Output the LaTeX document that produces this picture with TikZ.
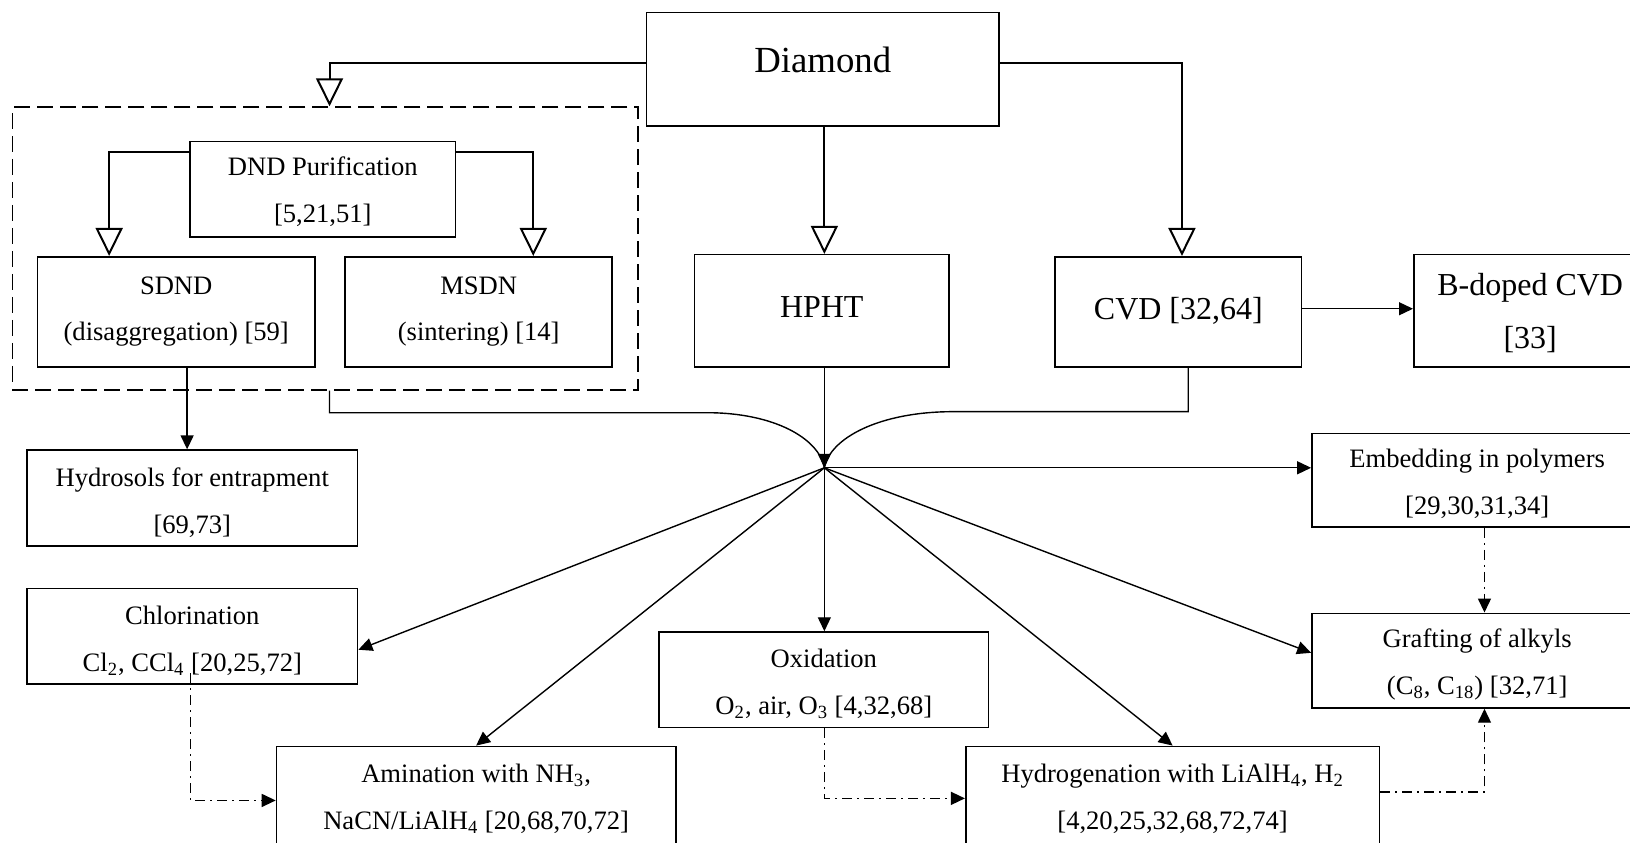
\documentclass[tikz,border=0pt]{standalone}
\usepackage{fontspec}
\setmainfont{Liberation Serif}
\usetikzlibrary{arrows.meta,fit,calc}
\begin{document}
\begin{tikzpicture}[x=0.52pt,y=-0.52pt,
  box/.style={draw,line width=0.8pt,inner sep=0pt,align=center,font=\fontsize{13.3}{23.5}\selectfont},
  sz/.style 2 args={minimum width=#1*0.52pt,minimum height=#2*0.52pt},
  bigtext/.style={font=\fontsize{16}{26.5}\selectfont},
  tpos/.style={text height=#1,text depth=0pt},
  conn/.style={line width=1pt},
  opentri/.style={-{Triangle[fill=white,length=14pt,width=13.5pt]}},
  arr/.style={line width=0.7pt,-{Triangle[length=7pt,width=6.5pt]}},
  dd/.style={dash pattern=on 5pt off 2.5pt on 1pt off 2.5pt},
  grpbox/.style={draw,line width=0.8pt,inner sep=0pt,dash pattern=on 8pt off 3.5pt}]
\useasboundingbox (0,0) rectangle (1568,810);

\node[box,sz={339}{109},tpos=3.6pt,font=\fontsize{18.4}{22}\selectfont] (diamond) at (791.5,66.5) {Diamond};
\node[grpbox,fit={(12,103)(614,375)}] (grp) {};
\node[box,sz={255}{92},tpos=33.3pt] (dnd) at (310.5,182) {DND Purification\\{}[5,21,51]};
\node[box,sz={267}{106},tpos=28.6pt,font=\fontsize{13.3}{23}\selectfont] (sdnd) at (169.5,300) {SDND\\(disaggregation) [59]};
\node[box,sz={257}{106},tpos=28.6pt,font=\fontsize{13.3}{23}\selectfont] (msdn) at (460.5,300) {MSDN\\(sintering) [14]};
\node[box,bigtext,sz={245}{108},tpos=6.3pt] (hpht) at (790.5,299) {HPHT};
\node[box,bigtext,sz={237}{106},tpos=7.3pt] (cvd) at (1133.5,300) {CVD [32,64]};
\node[box,bigtext,sz={224}{108},tpos=37.4pt] (bcvd) at (1472,299) {B-doped CVD\\{}[33]};
\node[box,sz={318}{92},tpos=35.4pt] (hyd) at (185,479) {Hydrosols for entrapment\\{}[69,73]};
\node[box,sz={318}{90},tpos=34.3pt] (emb) at (1421,462) {Embedding in polymers\\{}[29,30,31,34]};
\node[box,sz={318}{92},tpos=35.4pt] (chl) at (185,612) {Chlorination\\Cl\textsubscript{2}, CCl\textsubscript{4} [20,25,72]};
\node[box,sz={318}{91},tpos=33.8pt] (graf) at (1421,635.5) {Grafting of alkyls\\(C\textsubscript{8}, C\textsubscript{18}) [32,71]};
\node[box,sz={317}{92},tpos=34.4pt] (oxi) at (792.5,654) {Oxidation\\O\textsubscript{2}, air, O\textsubscript{3} [4,32,68]};
\node[box,sz={384}{96},tpos=33.2pt] (ami) at (458,766) {Amination with NH\textsubscript{3},\\NaCN/LiAlH\textsubscript{4} [20,68,70,72]};
\node[box,sz={398}{96},tpos=33.2pt] (hydro) at (1128,766) {Hydrogenation with LiAlH\textsubscript{4}, H\textsubscript{2}\\{}[4,20,25,32,68,72,74]};

\coordinate (hub) at (793,450);

% hollow-triangle connectors
\draw[conn,opentri] (diamond.west |- 0,61) -| (317,0 |- grp.north);
\draw[conn,opentri] (diamond.south -| 793,0) -- (hpht.north -| 793,0);
\draw[conn,opentri] (diamond.east |- 0,61) -| (1137,0 |- cvd.north);
\draw[conn,opentri] (dnd.west |- 0,146) -| (105,0 |- sdnd.north);
\draw[conn,opentri] (dnd.east |- 0,146) -| (513,0 |- msdn.north);

% solid arrows
\draw[arr] (cvd.east |- 0,297) -- (bcvd.west |- 0,297);
\draw[arr] (sdnd.south -| 180,0) -- (hyd.north -| 180,0);

\draw[line width=0.7pt] (grp.south -| 317,0) |- (680,397) .. controls (745,397) and (788,422) .. (hub);
\draw[line width=0.7pt] (cvd.south -| 1143,0) |- (917,396) .. controls (845,396) and (798,422) .. (hub);
\draw[arr] (hpht.south -| hub) -- (hub);

\draw[arr] (hub) -- (hub -| emb.west);
\draw[arr] (hub) -- (graf.west |- 0,628);
\draw[arr] (hub) -- (hydro.north);
\draw[arr] (hub) -- (oxi.north -| hub);
\draw[arr] (hub) -- (ami.north);
\draw[arr] (hub) -- (chl.east |- 0,625);

% dash-dot connectors
\draw[arr,dd] ($(chl.south -| 183,0)+(0,-11)$) |- (ami.west |- 0,770);
\draw[arr,dd] (oxi.south -| 793,0) |- (hydro.west |- 0,768);
\draw[arr,dd] (hydro.east |- 0,762) -| (1428,0 |- graf.south);
\draw[arr,dd] (emb.south -| 1428,0) -- (graf.north -| 1428,0);
\end{tikzpicture}
\end{document}
